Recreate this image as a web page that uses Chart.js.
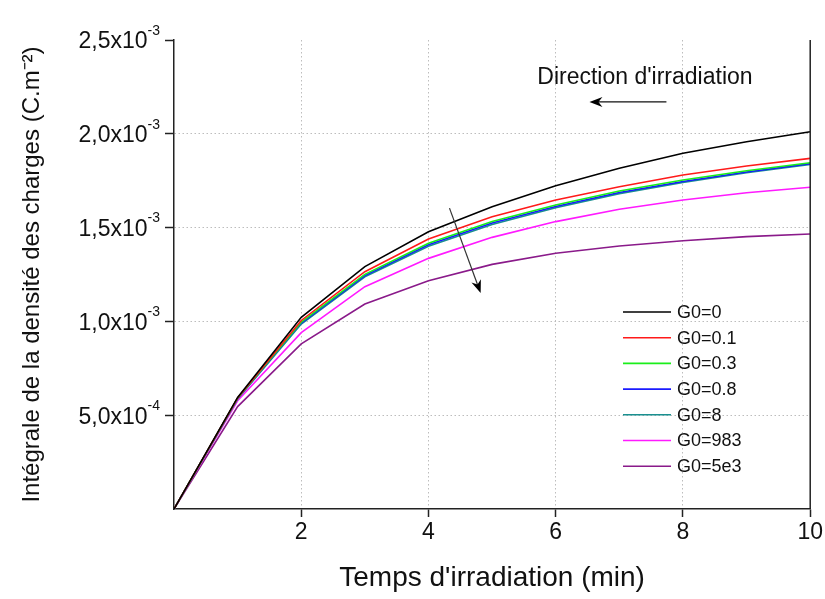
<!DOCTYPE html>
<html>
<head>
<meta charset="utf-8">
<script src="https://cdn.jsdelivr.net/npm/chart.js@4.4.0/dist/chart.umd.min.js"></script>
<style>
  html, body { margin: 0; padding: 0; background: #fff; }
  #wrap { width: 825px; height: 599px; }
</style>
</head>
<body>
<div id="wrap"><canvas id="myChart"></canvas></div>
<script>
// temps (min)
const times = [0, 1, 2, 3, 4, 5, 6, 7, 8, 9, 10];
// intégrale de la densité des charges (C.m-2), une série par G0
const g0_0   = [0, 0.000595, 0.001022, 0.001292, 0.001478, 0.001611, 0.001723, 0.001816, 0.001896, 0.001958, 0.002011];
const g0_01  = [0, 0.000592, 0.001005, 0.001265, 0.001439, 0.001558, 0.001647, 0.001718, 0.001780, 0.001828, 0.001869];
const g0_03  = [0, 0.000590, 0.000996, 0.001251, 0.001416, 0.001532, 0.001620, 0.001695, 0.001754, 0.001803, 0.001846];
const g0_08  = [0, 0.000589, 0.000991, 0.001244, 0.001408, 0.001524, 0.001612, 0.001687, 0.001746, 0.001796, 0.001841];
const g0_8   = [0, 0.000587, 0.000986, 0.001238, 0.001401, 0.001517, 0.001606, 0.001681, 0.001741, 0.001792, 0.001837];
const g0_983 = [0, 0.000577, 0.000940, 0.001185, 0.001336, 0.001448, 0.001532, 0.001598, 0.001647, 0.001686, 0.001715];
const g0_5e3 = [0, 0.000546, 0.000880, 0.001093, 0.001217, 0.001304, 0.001363, 0.001402, 0.001430, 0.001452, 0.001466];

const seriesLabels = ['G0=0', 'G0=0.1', 'G0=0.3', 'G0=0.8', 'G0=8', 'G0=983', 'G0=5e3'];
const seriesData = [g0_0, g0_01, g0_03, g0_08, g0_8, g0_983, g0_5e3];
const seriesColors = ['#000000', '#ff1a1a', '#1aee1a', '#1a1aff', '#1a9090', '#ff1aff', '#8a1a8a'];

const xTicks = [2, 4, 6, 8, 10];
const yTicks = [0.0005, 0.001, 0.0015, 0.002, 0.0025];

const FONT = 'Liberation Sans, Arial, sans-serif';
const TXT = '#111';

function supLabel(v) {
    const parts = v.toExponential(1).split('e');
    return { main: parts[0].replace('.', ',') + 'x10', sup: parts[1] };
}

const decorPlugin = {
    id: 'decor',
    afterDraw(chart) {
        const ctx = chart.ctx;
        const area = chart.chartArea;
        const xs = chart.scales.x, ys = chart.scales.y;
        ctx.save();

        // right frame line
        ctx.strokeStyle = '#222';
        ctx.lineWidth = 1.5;
        ctx.beginPath();
        ctx.moveTo(area.right, area.top);
        ctx.lineTo(area.right, area.bottom);
        ctx.stroke();

        // y tick labels with exponents
        ctx.fillStyle = TXT;
        ctx.textBaseline = 'middle';
        ctx.textAlign = 'right';
        yTicks.forEach(function (v) {
            const y = ys.getPixelForValue(v);
            const lab = supLabel(v);
            ctx.font = '14px ' + FONT;
            const sw = ctx.measureText(lab.sup).width;
            const xEnd = area.left - 14;
            ctx.fillText(lab.sup, xEnd, y - 9);
            ctx.font = '23px ' + FONT;
            ctx.fillText(lab.main, xEnd - sw, y + 2);
        });

        // legend
        ctx.textAlign = 'left';
        ctx.font = '18px ' + FONT;
        chart.data.datasets.forEach(function (ds, i) {
            const y = area.top + 272 + i * 25.7;
            const x0 = area.left + 449;
            ctx.strokeStyle = ds.borderColor;
            ctx.lineWidth = 1.6;
            ctx.beginPath();
            ctx.moveTo(x0, y);
            ctx.lineTo(x0 + 48, y);
            ctx.stroke();
            ctx.fillStyle = TXT;
            ctx.fillText(ds.label, x0 + 54, y + 1);
        });

        // "Direction d'irradiation"
        ctx.font = '23px ' + FONT;
        ctx.fillText("Direction d'irradiation", xs.getPixelForValue(5.71), ys.getPixelForValue(0.002297));
        drawArrow(ctx, xs.getPixelForValue(7.74), ys.getPixelForValue(0.00217),
                  xs.getPixelForValue(6.53), ys.getPixelForValue(0.00217), '#111');
        drawArrow(ctx, xs.getPixelForValue(4.33), ys.getPixelForValue(0.001604),
                  xs.getPixelForValue(4.82), ys.getPixelForValue(0.001151), '#333');
        ctx.restore();
    }
};

function drawArrow(ctx, x1, y1, x2, y2, color) {
    const a = Math.atan2(y2 - y1, x2 - x1);
    ctx.strokeStyle = color;
    ctx.fillStyle = '#000';
    ctx.lineWidth = 1.2;
    ctx.beginPath();
    ctx.moveTo(x1, y1);
    ctx.lineTo(x2 - 6 * Math.cos(a), y2 - 6 * Math.sin(a));
    ctx.stroke();
    ctx.beginPath();
    ctx.moveTo(x2, y2);
    ctx.lineTo(x2 - 13 * Math.cos(a) + 5 * Math.sin(a), y2 - 13 * Math.sin(a) - 5 * Math.cos(a));
    ctx.lineTo(x2 - 9 * Math.cos(a), y2 - 9 * Math.sin(a));
    ctx.lineTo(x2 - 13 * Math.cos(a) - 5 * Math.sin(a), y2 - 13 * Math.sin(a) + 5 * Math.cos(a));
    ctx.closePath();
    ctx.fill();
}

document.addEventListener('DOMContentLoaded', function () {
    const ctx = document.getElementById('myChart').getContext('2d');
    const datasets = seriesData.map(function (d, i) {
        return {
            label: seriesLabels[i],
            data: times.map(function (t, j) { return { x: t, y: d[j] }; }),
            borderColor: seriesColors[i],
            backgroundColor: seriesColors[i],
            borderWidth: 1.6,
            pointRadius: 0,
            tension: 0,
            fill: false
        };
    });
    const gridColor = '#bdbdbd';
    const config = {
        type: 'line',
        data: { datasets: datasets },
        options: {
            responsive: true,
            maintainAspectRatio: false,
            animation: false,
            layout: { padding: { top: 40, right: 14, left: 0, bottom: 0 } },
            plugins: {
                legend: { display: false },
                tooltip: { enabled: false }
            },
            scales: {
                x: {
                    type: 'linear',
                    min: 0,
                    max: 10,
                    afterFit: function (s) { s.height = 90; },
                    afterBuildTicks: function (s) {
                        s.ticks = [0].concat(xTicks).map(function (v) { return { value: v }; });
                    },
                    ticks: {
                        font: { size: 23, family: FONT },
                        color: TXT,
                        padding: 2,
                        maxRotation: 0,
                        callback: function (v) { return v === 0 ? '' : String(v); }
                    },
                    grid: {
                        color: function (c) { return (c.tick && (c.tick.value === 0 || c.tick.value === 10)) ? 'rgba(0,0,0,0)' : gridColor; },
                        lineWidth: 1,
                        tickLength: 8,
                        tickWidth: 1.5,
                        tickBorderDash: [],
                        tickColor: function (c) { return (c.tick && c.tick.value === 0) ? 'rgba(0,0,0,0)' : '#222'; }
                    },
                    border: { color: '#222', width: 1.5, dash: [1.5, 2.5] },
                    title: {
                        display: true,
                        text: "Temps d'irradiation (min)",
                        font: { size: 28, family: FONT },
                        color: TXT,
                        padding: { top: 0, bottom: 4 }
                    }
                },
                y: {
                    type: 'linear',
                    min: 0,
                    max: 0.0025,
                    afterFit: function (s) { s.width = 174; },
                    afterBuildTicks: function (s) {
                        s.ticks = [0].concat(yTicks).map(function (v) { return { value: v }; });
                    },
                    ticks: {
                        color: 'rgba(0,0,0,0)',
                        font: { size: 21, family: FONT }
                    },
                    grid: {
                        color: function (c) { return (c.tick && (c.tick.value === 0 || c.tick.value === 0.0025)) ? 'rgba(0,0,0,0)' : gridColor; },
                        lineWidth: 1,
                        tickLength: 9,
                        tickWidth: 1.5,
                        tickBorderDash: [],
                        tickColor: function (c) { return (c.tick && c.tick.value === 0) ? 'rgba(0,0,0,0)' : '#222'; }
                    },
                    border: { color: '#222', width: 1.5, dash: [1.5, 2.5] },
                    title: {
                        display: true,
                        text: 'Intégrale de la densité des charges (C.m⁻²)',
                        font: { size: 24, family: FONT },
                        color: TXT,
                        padding: { top: 18, bottom: 0 }
                    }
                }
            }
        },
        plugins: [decorPlugin]
    };
    const myChart = new Chart(ctx, config);
});
</script>
</body>
</html>
